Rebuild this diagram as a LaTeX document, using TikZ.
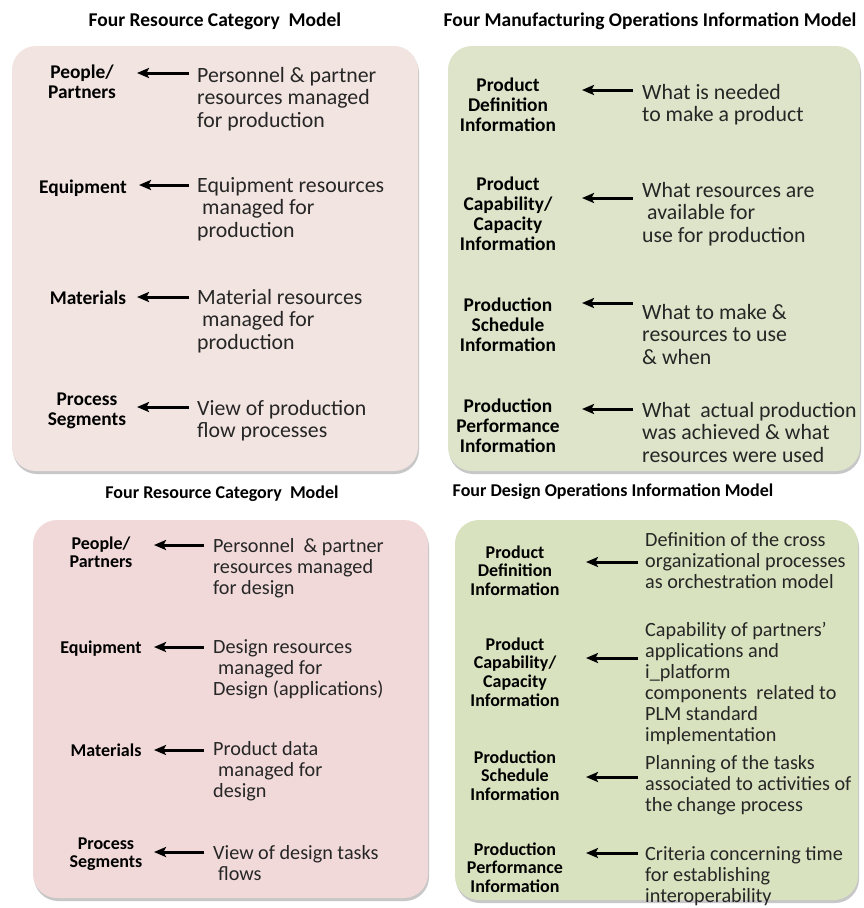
\documentclass[tikz,border=0pt]{standalone}
\usepackage{fontspec}
\setmainfont{Carlito}
\usetikzlibrary{arrows.meta}
\definecolor{pinkA}{RGB}{242,228,224}
\definecolor{pinkB}{RGB}{241,217,217}
\definecolor{greenA}{RGB}{221,228,201}
\definecolor{greenB}{RGB}{216,226,190}
\newcommand{\topstr}{\rule{0pt}{20pt}}
\newcommand{\ind}{\hspace*{5pt}}
\tikzset{
  panel/.style={rounded corners=24pt},
  shade/.style={fill=black!22, rounded corners=24pt},
  ttlA/.style={font=\fontsize{19.5}{22}\selectfont\bfseries, anchor=base, inner sep=0pt},
  ttlB/.style={font=\fontsize{18}{21}\selectfont\bfseries, anchor=base, inner sep=0pt},
  labA/.style={font=\fontsize{19.4}{20}\selectfont\bfseries, align=center, anchor=north, inner sep=0pt},
  labB/.style={font=\fontsize{18}{18.6}\selectfont\bfseries, align=center, anchor=north, inner sep=0pt},
  bodyA/.style={font=\fontsize{21.8}{22.5}\selectfont, align=left, anchor=north west, inner sep=0pt, text=black!85},
  bodyB/.style={font=\fontsize{20.2}{21}\selectfont, align=left, anchor=north west, inner sep=0pt, text=black!85},
  arr/.style={line width=3pt, -{Stealth[length=12pt,width=10pt,inset=2.5pt]}}
}
\begin{document}
\begin{tikzpicture}[x=1pt,y=-1pt]
\useasboundingbox[fill=white] (0,0) rectangle (863,908);

% panels
\fill[shade] (13,49) rectangle (419,474);
\fill[panel, fill=pinkA] (12,46) rectangle (418,471);
\fill[shade] (449,49) rectangle (861,474);
\fill[panel, fill=greenA] (448,46) rectangle (860,471);
\fill[shade] (34,523) rectangle (429,901);
\fill[panel, fill=pinkB] (33,520) rectangle (428,898);
\fill[shade] (456,523) rectangle (859,903);
\fill[panel, fill=greenB] (455,520) rectangle (858,900);

% titles
\node[ttlA] (t1) at (215,26) {Four Resource Category \ Model};
\node[ttlA] (t2) at (650,26) {Four Manufacturing Operations Information Model};
\node[ttlB] (t3) at (222,498) {Four Resource Category \ Model};
\node[ttlB] (t4) at (613,496) {Four Design Operations Information Model};

% ---------- top left ----------
\node[labA] (l11) at (82,58) {\topstr People/\\Partners};
\node[labA] (l12) at (83,173) {\topstr Equipment};
\node[labA] (l13) at (88,284) {\topstr Materials};
\node[labA] (l14) at (87,385) {\topstr Process\\Segments};
\node[bodyA] (b11) at (197,62) {\topstr Personnel \& partner\\resources managed\\for production};
\node[bodyA] (b12) at (197,172) {\topstr Equipment resources\\\ind managed for\\production};
\node[bodyA] (b13) at (197,284) {\topstr Material resources\\\ind managed for\\production};
\node[bodyA] (b14) at (197,395) {\topstr View of production\\flow processes};
\coordinate (s11) at (189,73); \coordinate (e11) at (137,73);
\coordinate (s12) at (189,185); \coordinate (e12) at (139,185);
\coordinate (s13) at (189,297); \coordinate (e13) at (137,297);
\coordinate (s14) at (189,407); \coordinate (e14) at (137,407);
\draw[arr] (s11) -- (e11);
\draw[arr] (s12) -- (e12);
\draw[arr] (s13) -- (e13);
\draw[arr] (s14) -- (e14);

% ---------- top right ----------
\node[labA] (l21) at (508,71) {\topstr Product\\Definition\\Information};
\node[labA] (l22) at (508,170) {\topstr Product\\Capability/\\Capacity\\Information};
\node[labA] (l23) at (508,291) {\topstr Production\\Schedule\\Information};
\node[labA] (l24) at (508,392) {\topstr Production\\Performance\\Information};
\node[bodyA] (b21) at (642,79) {\topstr What is needed\\to make a product};
\node[bodyA] (b22) at (642,177) {\topstr What resources are\\\ind available for\\use for production};
\node[bodyA] (b23) at (642,299) {\topstr What to make \&\\resources to use\\\& when};
\node[bodyA] (b24) at (642,397) {\topstr What \ actual production\\was achieved \& what\\resources were used};
\coordinate (s21) at (633,90); \coordinate (e21) at (582,90);
\coordinate (s22) at (633,198); \coordinate (e22) at (582,198);
\coordinate (s23) at (633,303); \coordinate (e23) at (582,303);
\coordinate (s24) at (633,409); \coordinate (e24) at (582,409);
\draw[arr] (s21) -- (e21);
\draw[arr] (s22) -- (e22);
\draw[arr] (s23) -- (e23);
\draw[arr] (s24) -- (e24);

% ---------- bottom left ----------
\node[labB] (l31) at (101,529) {\topstr People/\\Partners};
\node[labB] (l32) at (101,633) {\topstr Equipment};
\node[labB] (l33) at (106,736) {\topstr Materials};
\node[labB] (l34) at (106,829) {\topstr Process\\Segments};
\node[bodyB] (b31) at (213,532) {\topstr Personnel \ \& partner\\resources managed\\for design};
\node[bodyB] (b32) at (213,633) {\topstr Design resources\\\ind managed for\\Design (applications)};
\node[bodyB] (b33) at (213,735) {\topstr Product data\\\ind managed for\\design};
\node[bodyB] (b34) at (213,839) {\topstr View of design tasks\\\ind flows};
\coordinate (s31) at (204,545); \coordinate (e31) at (154,545);
\coordinate (s32) at (204,647); \coordinate (e32) at (154,647);
\coordinate (s33) at (204,750); \coordinate (e33) at (154,750);
\coordinate (s34) at (204,852); \coordinate (e34) at (154,852);
\draw[arr] (s31) -- (e31);
\draw[arr] (s32) -- (e32);
\draw[arr] (s33) -- (e33);
\draw[arr] (s34) -- (e34);

% ---------- bottom right ----------
\node[labB] (l41) at (515,538) {\topstr Product\\Definition\\Information};
\node[labB] (l42) at (515,630) {\topstr Product\\Capability/\\Capacity\\Information};
\node[labB] (l43) at (515,743) {\topstr Production\\Schedule\\Information};
\node[labB] (l44) at (515,835) {\topstr Production\\Performance\\Information};
\node[bodyB] (b41) at (645,526) {\topstr Definition of the cross\\organizational processes\\as orchestration model};
\node[bodyB] (b42) at (645,616) {\topstr Capability of partners’\\applications and\\i\_platform\\components \ related to\\PLM standard\\implementation};
\node[bodyB] (b43) at (645,749) {\topstr Planning of the tasks\\associated to activities of\\the change process};
\node[bodyB] (b44) at (645,840) {\topstr Criteria concerning time\\for establishing\\interoperability};
\coordinate (s41) at (638,562); \coordinate (e41) at (586,562);
\coordinate (s42) at (638,658); \coordinate (e42) at (586,658);
\coordinate (s43) at (638,777); \coordinate (e43) at (586,777);
\coordinate (s44) at (638,853); \coordinate (e44) at (586,853);
\draw[arr] (s41) -- (e41);
\draw[arr] (s42) -- (e42);
\draw[arr] (s43) -- (e43);
\draw[arr] (s44) -- (e44);
\end{tikzpicture}
\end{document}
